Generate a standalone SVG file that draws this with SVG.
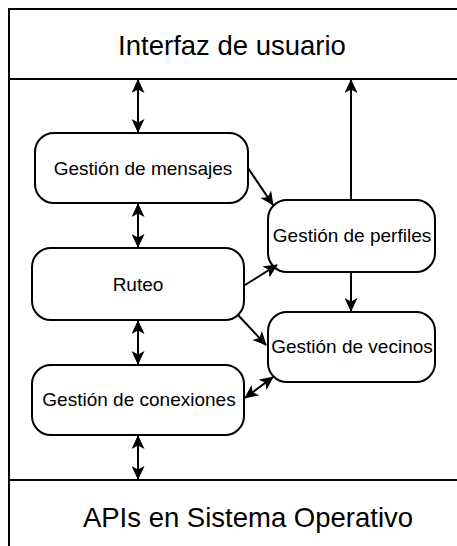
<svg xmlns="http://www.w3.org/2000/svg" width="457" height="546" viewBox="0 0 457 546">
<style>
.frame{fill:none;stroke:#000;stroke-width:2}
.node{fill:#fff;stroke:#000;stroke-width:2}
.lbl{font-family:"Liberation Sans",Arial,sans-serif;font-size:19px;fill:#000;text-anchor:middle}
.big{font-family:"Liberation Sans",Arial,sans-serif;font-size:27.5px;fill:#000;text-anchor:middle}
.edge{fill:none;stroke:#000;stroke-width:2}
</style>
<defs>
<marker id="ah" viewBox="0 0 14 13" refX="13" refY="6.5" markerWidth="14" markerHeight="13" markerUnits="userSpaceOnUse" orient="auto-start-reverse">
<path d="M0,0 L14,6.5 L0,13 L3.5,6.5 z" fill="#000"/>
</marker>
</defs>
<rect width="457" height="546" fill="#fff"/>
<g id="frame">
<path class="frame" d="M9,546 V9 H460 M9,79 H460 M9,480 H460"/>
</g>
<g id="interfaz"><text class="big" x="232" y="55">Interfaz de usuario</text></g>
<g id="apis"><text class="big" x="248" y="527">APIs en Sistema Operativo</text></g>
<g id="mensajes"><rect class="node" x="35" y="133" width="213" height="70" rx="19"/><text class="lbl" x="143" y="175">Gestión de mensajes</text></g>
<g id="ruteo"><rect class="node" x="32" y="248" width="212" height="72" rx="19"/><text class="lbl" x="138" y="291">Ruteo</text></g>
<g id="conexiones"><rect class="node" x="32" y="365" width="212" height="70" rx="19"/><text class="lbl" x="139" y="406">Gestión de conexiones</text></g>
<g id="perfiles"><rect class="node" x="268" y="200" width="167" height="72" rx="19"/><text class="lbl" x="352" y="242">Gestión de perfiles</text></g>
<g id="vecinos"><rect class="node" x="268" y="312" width="167" height="70" rx="19"/><text class="lbl" x="352" y="353">Gestión de vecinos</text></g>
<g id="connectors">
<line class="edge" x1="138" y1="80" x2="138" y2="132" marker-start="url(#ah)" marker-end="url(#ah)"/>
<line class="edge" x1="138" y1="204" x2="138" y2="247" marker-start="url(#ah)" marker-end="url(#ah)"/>
<line class="edge" x1="138" y1="321" x2="138" y2="364" marker-start="url(#ah)" marker-end="url(#ah)"/>
<line class="edge" x1="138" y1="436" x2="138" y2="479" marker-start="url(#ah)" marker-end="url(#ah)"/>
<line class="edge" x1="351" y1="200" x2="351" y2="80" marker-end="url(#ah)"/>
<line class="edge" x1="351" y1="272" x2="351" y2="311" marker-end="url(#ah)"/>
<line class="edge" x1="248" y1="168" x2="273" y2="205" marker-end="url(#ah)"/>
<line class="edge" x1="245" y1="285" x2="277" y2="265" marker-end="url(#ah)"/>
<line class="edge" x1="238" y1="315" x2="266" y2="345" marker-end="url(#ah)"/>
<line class="edge" x1="245" y1="398" x2="273" y2="377" marker-start="url(#ah)" marker-end="url(#ah)"/>
</g>
</svg>
